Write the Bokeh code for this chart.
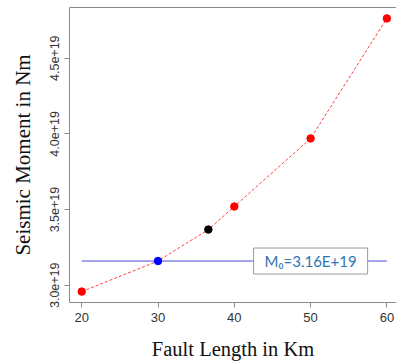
from bokeh.plotting import figure
from bokeh.models import (LinearAxis, FixedTicker, Range1d, Label, CustomJSTickFormatter)
from bokeh.embed import file_html
from bokeh.resources import INLINE

# ---- data ----
fault_length = [20, 30, 36.6, 40, 50, 60]
seismic_moment = [2.958e19, 3.16e19, 3.368e19, 3.52e19, 3.97e19, 4.763e19]

red_x = [20, 40, 50, 60]
red_y = [2.958e19, 3.52e19, 3.97e19, 4.763e19]
blue_x = [30]
blue_y = [3.16e19]
black_x = [36.6]
black_y = [3.368e19]

m0_value = 3.16e19
m0_line_x = [20, 60]
m0_text = "M\u2080=3.16E+19"

x_ticks = [20, 30, 40, 50, 60]
x_tick_labels = ["20", "30", "40", "50", "60"]
y_ticks = [3.0e19, 3.5e19, 4.0e19, 4.5e19]
y_tick_labels = ["3.0e+19", "3.5e+19", "4.0e+19", "4.5e+19"]

x_title = "Fault Length in Km"
y_title = "Seismic Moment in Nm"

# ---- figure ----
BOX = "#8a8a8a"
p = figure(width=396, height=363, output_backend="svg", toolbar_location=None,
           x_range=Range1d(18.4, 61.26), y_range=Range1d(2.886e19, 4.835e19),
           min_border_left=69, min_border_right=0, min_border_top=7, min_border_bottom=61,
           x_axis_label=x_title, y_axis_label=y_title)
p.outline_line_color = None
p.grid.visible = False

# x axis
xa = p.xaxis[0]
xa.ticker = FixedTicker(ticks=x_ticks)
xa.major_label_overrides = {t: l for t, l in zip(x_ticks, x_tick_labels)}
xa.minor_tick_line_color = None
xa.axis_line_color = BOX
xa.major_tick_line_color = BOX
xa.major_tick_in = 0
xa.major_tick_out = 5
xa.major_label_standoff = 5
xa.major_label_text_font = "Liberation Sans"
xa.major_label_text_font_size = "13px"
xa.major_label_text_color = "#333333"
xa.axis_label_text_font = "Liberation Serif"
xa.axis_label_text_font_size = "20.5px"
xa.axis_label_text_font_style = "normal"
xa.axis_label_text_color = "#111111"
xa.axis_label_standoff = 13

# y axis
ya = p.yaxis[0]
ya.ticker = FixedTicker(ticks=y_ticks)
ya.formatter = CustomJSTickFormatter(args=dict(tvals=y_ticks, tlabs=y_tick_labels), code="""
    for (let i = 0; i < tvals.length; i++) {
        if (Math.abs(tvals[i] - tick) < 1e15) return tlabs[i];
    }
    return '';
""")
ya.minor_tick_line_color = None
ya.axis_line_color = BOX
ya.major_tick_line_color = BOX
ya.major_tick_in = 0
ya.major_tick_out = 5
ya.major_label_standoff = 5
ya.major_label_orientation = "vertical"
ya.major_label_text_font = "Liberation Sans"
ya.major_label_text_font_size = "12.5px"
ya.major_label_text_color = "#333333"
ya.axis_label_text_font = "Liberation Serif"
ya.axis_label_text_font_size = "21px"
ya.axis_label_text_font_style = "normal"
ya.axis_label_text_color = "#111111"
ya.axis_label_standoff = 13

# top border line
top = LinearAxis(ticker=FixedTicker(ticks=[]), axis_line_color=BOX,
                 major_tick_line_color=None, minor_tick_line_color=None,
                 major_label_text_font_size="0px", major_label_standoff=0,
                 major_tick_out=0, major_tick_in=0)
p.add_layout(top, "above")

# horizontal M0 line
p.line(m0_line_x, [m0_value] * len(m0_line_x), line_color="#4a4ad8", line_width=1)

# dashed curve
p.line(fault_length, seismic_moment, line_color="red", line_width=1,
       line_dash="3 2", line_alpha=0.75)

# points
p.scatter(red_x, red_y, size=7.5, color="red")
p.scatter(blue_x, blue_y, size=7.5, color="blue")
p.scatter(black_x, black_y, size=7.5, color="black")

# label box
lab = Label(x=50, y=m0_value, text=m0_text, text_align="center", text_baseline="middle",
            text_font="Lato", text_font_size="15px", text_color="#2f75b5",
            background_fill_color="white", border_line_color="#9a9a9a", border_line_width=1,
            padding=dict(left=11, right=11, top=4, bottom=4))
p.add_layout(lab)

open("out.html", "w").write(file_html(p, INLINE))
